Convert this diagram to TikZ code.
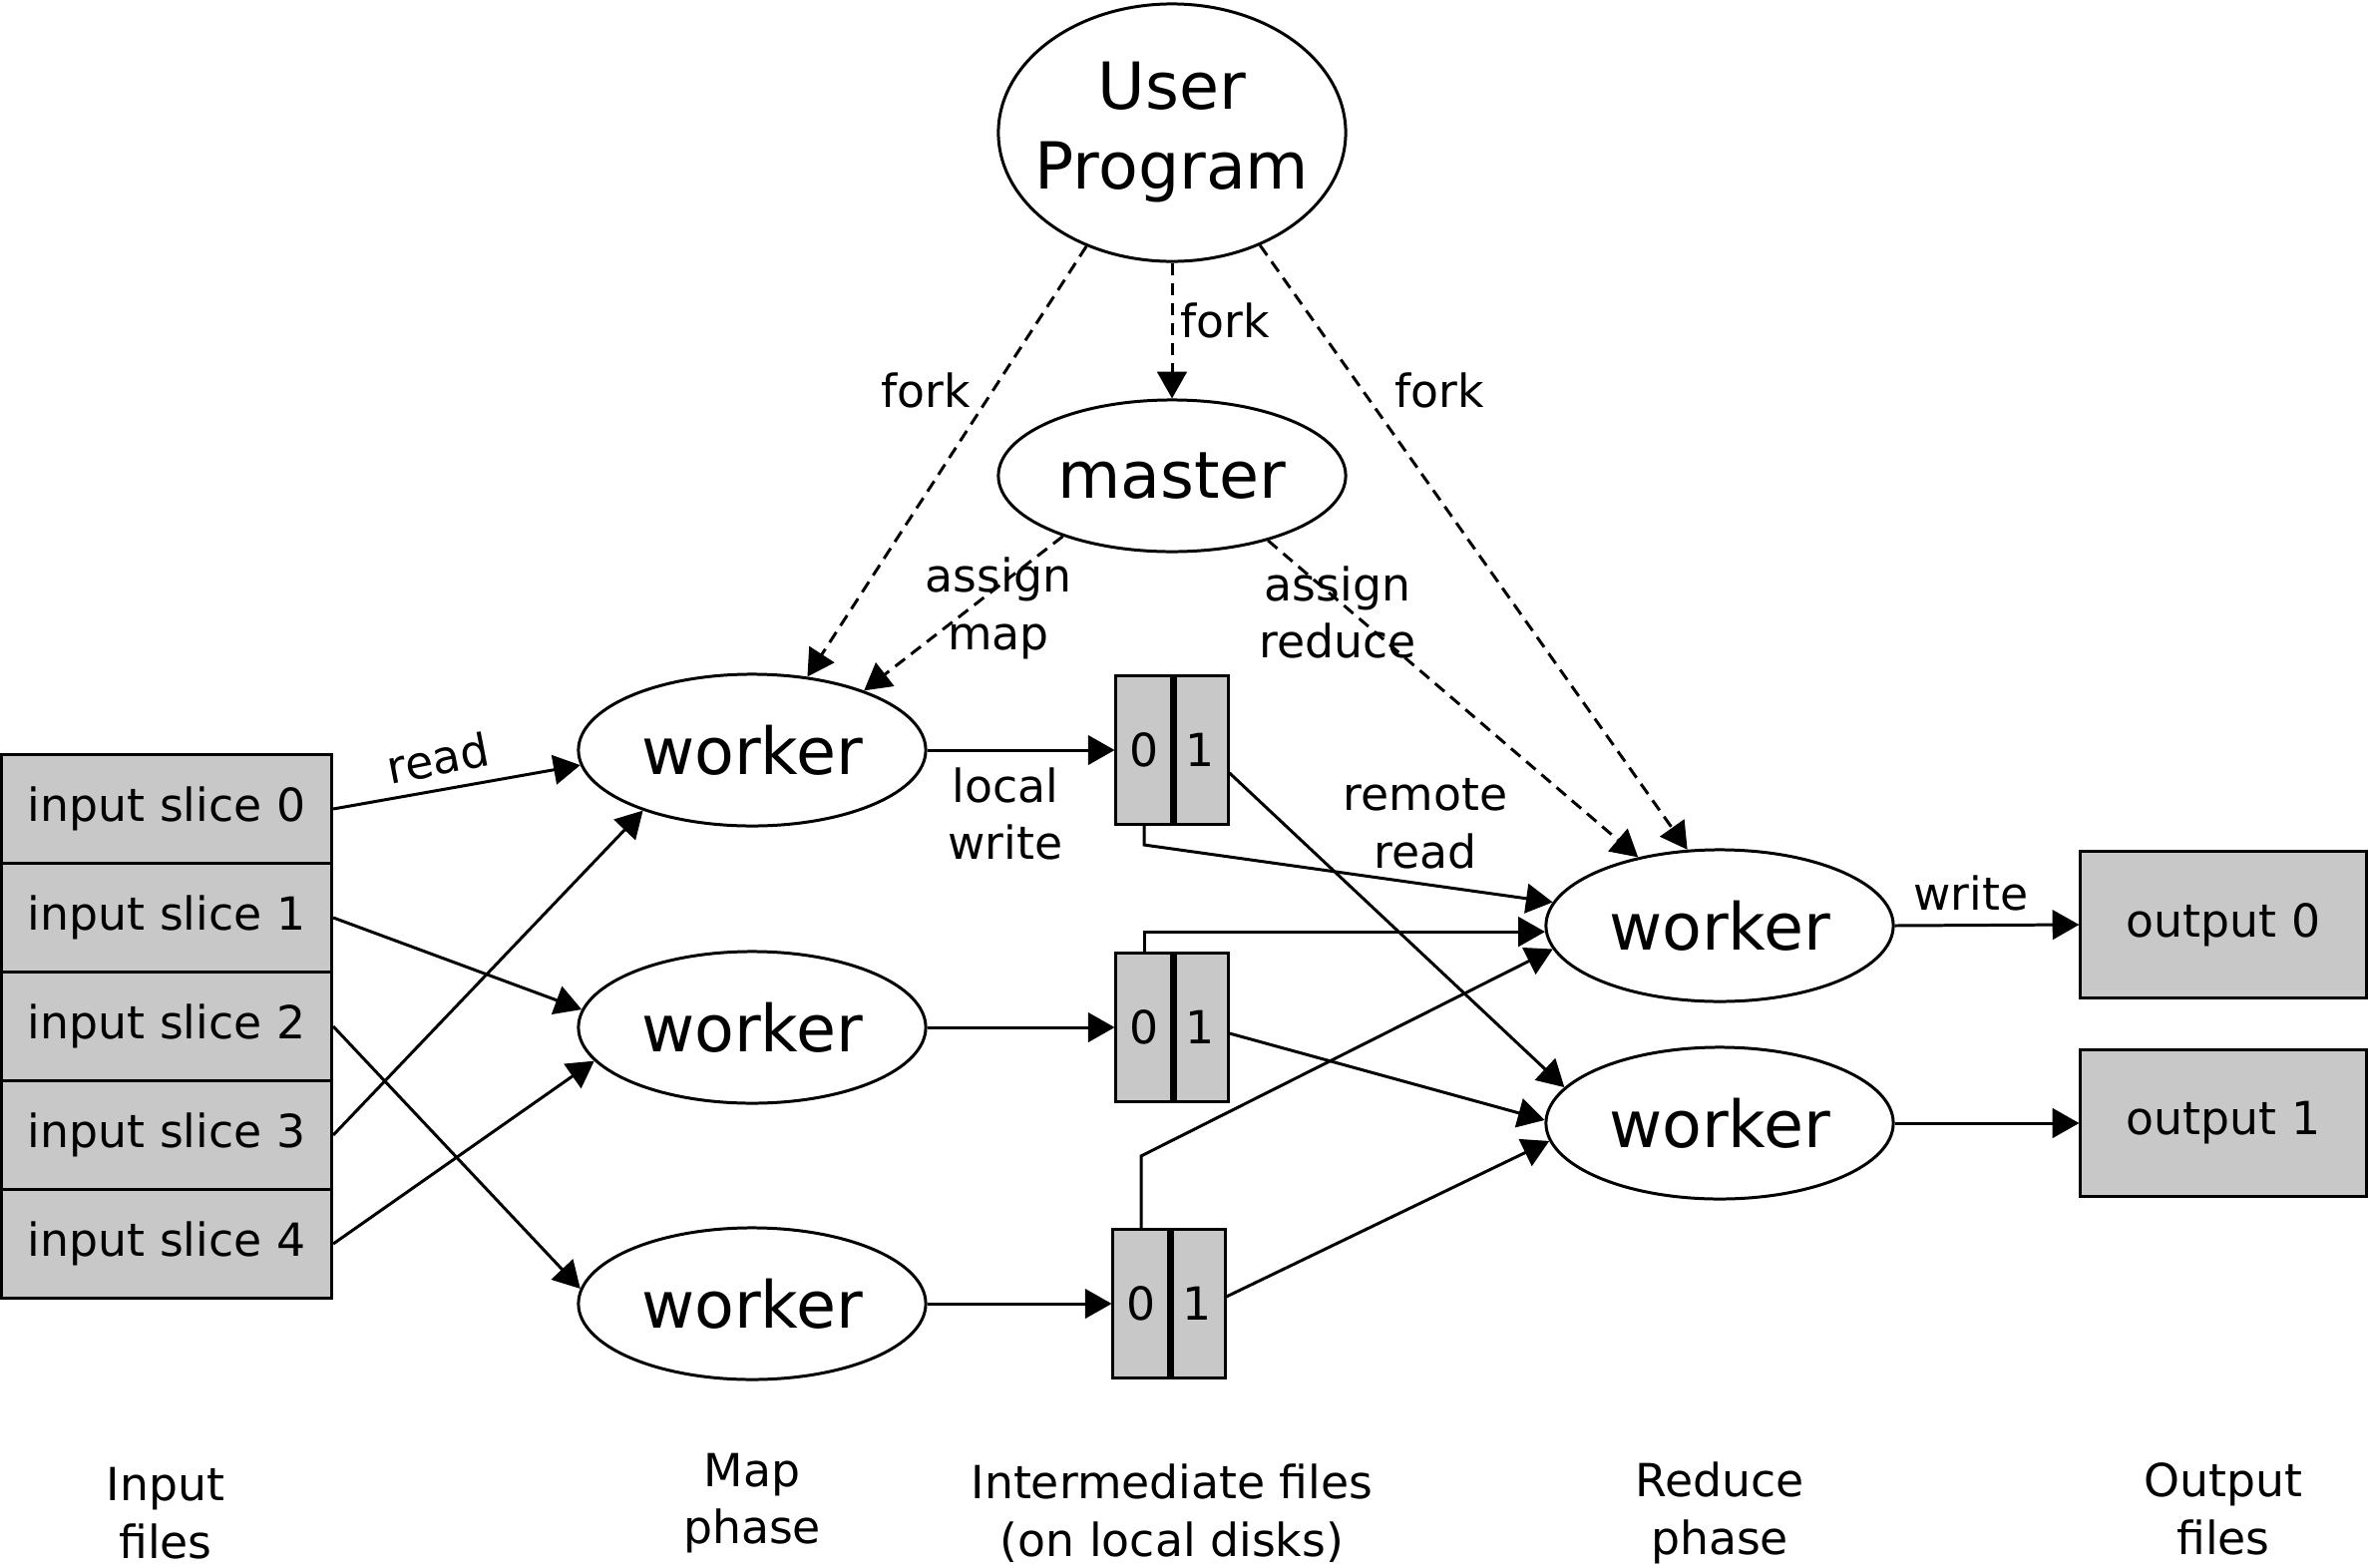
\documentclass[tikz,border=0pt]{standalone}
\usepackage{fontspec}
\setmainfont{DejaVu Sans}
\usetikzlibrary{shapes.geometric,arrows.meta}
\definecolor{boxgray}{RGB}{200,200,200}
\begin{document}
\begin{tikzpicture}[x=0.01cm,y=-0.01cm,line width=0.85pt,
  >={Triangle[length=7.6pt,width=8.4pt]},
  small/.style={font=\fontsize{13}{16.4}\selectfont,align=center,inner sep=0pt},
  bigtext/.style={font=\fontsize{18.5}{23.6}\selectfont,align=center,inner sep=0pt},
  slicebox/.style={draw,fill=boxgray,minimum width=3.31cm,minimum height=1.09cm,small},
  outbox/.style={draw,fill=boxgray,minimum width=2.86cm,minimum height=1.47cm,small},
  halfbox/.style={draw,fill=boxgray,minimum width=0.56cm,minimum height=1.49cm,small},
  proc/.style={ellipse,draw,minimum width=3.48cm,minimum height=1.52cm,bigtext},
  dsh/.style={dash pattern=on 3.5pt off 2.2pt}]
\useasboundingbox (0,0) rectangle (2374,1572);

% input slices
\node[slicebox] (s0) at (167,811) {input slice 0};
\node[slicebox] (s1) at (167,920) {input slice 1};
\node[slicebox] (s2) at (167,1029) {input slice 2};
\node[slicebox] (s3) at (167,1138) {input slice 3};
\node[slicebox] (s4) at (167,1247) {input slice 4};

% user program and master
\node[proc,minimum height=2.58cm] (up) at (1175,133) {\makebox[0pt]{\begin{tabular}{@{}c@{}}User\\[-0.9pt]Program\end{tabular}}};
\node[proc] (m) at (1175,477) {master};

% map workers
\node[proc] (w1) at (754,752) {worker};
\node[proc] (w2) at (754,1030) {worker};
\node[proc] (w3) at (754,1307) {worker};

% reduce workers
\node[proc] (r1) at (1724,928) {worker};
\node[proc] (r2) at (1724,1126) {worker};

% intermediate files
\node[halfbox] (b1z) at (1147,752) {0};
\node[halfbox] (b1o) at (1203,752) {1};
\node[halfbox] (b2z) at (1147,1030) {0};
\node[halfbox] (b2o) at (1203,1030) {1};
\node[halfbox] (b3z) at (1144,1307) {0};
\node[halfbox] (b3o) at (1200,1307) {1};
\draw[line width=1.8pt] (b1z.north east) -- (b1z.south east);
\draw[line width=1.8pt] (b2z.north east) -- (b2z.south east);
\draw[line width=1.8pt] (b3z.north east) -- (b3z.south east);

% outputs
\node[outbox] (o0) at (2229,927) {output 0};
\node[outbox] (o1) at (2229,1126) {output 1};

% dashed control edges
\draw[->,dsh] (up.233) -- (w1.53);
\draw[->,dsh] (up.south) -- (m.north);
\draw[->,dsh] (up.308) -- (r1.113);
\draw[->,dsh] (m.209) -- (w1.28);
\draw[->,dsh] (m.326) -- (r1.140);

% read edges
\draw[->] (s0.east) -- (w1.185);
\draw[->] (s1.east) -- (w2.174);
\draw[->] (s2.east) -- (w3.175);
\draw[->] (s3.east) -- (w1.209);
\draw[->] (s4.east) -- (w2.192);

% local write
\draw[->] (w1.east) -- (b1z.west);
\draw[->] (w2.east) -- (b2z.west);
\draw[->] (w3.east) -- (b3z.west);

% remote read
\draw[->] (b1z.south) -- ++(0,19) -- (r1.172);
\draw[->] ([yshift=-6.5pt]b1o.east) -- (r2.167);
\draw[->] (b2z.north) |- (r1.182);
\draw[->] ([yshift=-1.7pt]b2o.east) -- (r2.179);
\draw[->] (b3z.north) -- ++(0,-72) -- (r1.188);
\draw[->] ([yshift=2pt]b3o.east) -- (r2.186);

% write
\draw[->] (r1.east) -- (o0.west);
\draw[->] (r2.east) -- (o1.west);

% edge labels
\node[small] (lf1) at (928,391) {fork};
\node[small] (lf2) at (1228,321) {fork};
\node[small] (lf3) at (1443,391) {fork};
\node[small] (lam) at (1001,610) {assign\\map};
\node[small] (lar) at (1341,614) {assign\\reduce};
\node[small,rotate=11] (lrd) at (439,760) {read};
\node[small] (llw) at (1008,816) {local\\write};
\node[small] (lrr) at (1429,826) {remote\\read};
\node[small] (lwr) at (1976,895) {write};

% bottom captions
\node[small] (c1) at (166,1517) {Input\\files};
\node[small] (c2) at (754,1507) {Map\\phase};
\node[small] (c3) at (1175,1517) {Intermediate files\\(on local disks)};
\node[small] (c4) at (1724,1517) {Reduce\\phase};
\node[small] (c5) at (2229,1513) {Output\\files};
\end{tikzpicture}
\end{document}
